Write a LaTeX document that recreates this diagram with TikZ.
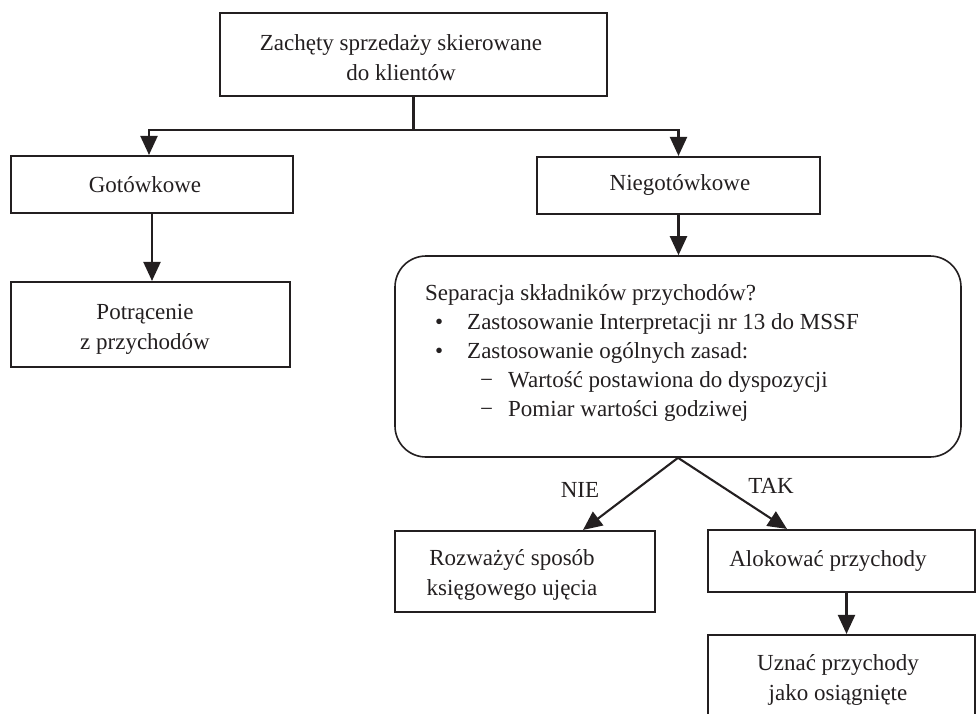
\documentclass[tikz,border=0pt]{standalone}
\usepackage{fontspec}
\setmainfont{Liberation Serif}
\usetikzlibrary{arrows.meta}
\definecolor{ink}{HTML}{231F20}
\tikzset{
  box/.style={draw=ink, line width=2.1pt, rectangle, inner sep=0pt},
  txt/.style={text=ink, align=center, font=\fontsize{23}{30}\selectfont, inner sep=0pt},
  conn/.style={draw=ink, line width=2.1pt},
  arr/.style={conn, -{Triangle[width=17pt,length=19pt]}},
}
\begin{document}
\begin{tikzpicture}[x=1pt,y=-1pt]
\useasboundingbox (0,0) rectangle (977,713);
\clip (0,0) rectangle (977,713);
% boxes
\node[box, minimum width=387pt, minimum height=83pt] (top) at (413.5,54.5) {};
\node[box, minimum width=282pt, minimum height=57pt] (got) at (152,184.5) {};
\node[box, minimum width=283pt, minimum height=57pt] (nieg) at (678.5,185.5) {};
\node[box, minimum width=279pt, minimum height=85pt] (pot) at (150.5,324.5) {};
\node[box, line width=1.6pt, rounded corners=31pt, minimum width=566pt, minimum height=201pt] (sep) at (678,356.5) {};
\node[box, minimum width=260pt, minimum height=81pt] (roz) at (525,571.5) {};
\node[box, minimum width=267pt, minimum height=62pt] (alo) at (841.5,561) {};
\node[box, minimum width=267pt, minimum height=125pt] (uzn) at (841.5,697.5) {};
% texts
\node[txt] (toptxt) at (401,58) {Zachęty sprzedaży skierowane\\do klientów};
\node[txt] (gottxt) at (145,185) {Gotówkowe};
\node[txt] (niegtxt) at (680,185) {Niegotówkowe};
\node[txt] (pottxt) at (145,329) {Potrącenie\\z przychodów};
\node[txt, align=left, anchor=west, font=\fontsize{23}{29}\selectfont] (septxt) at (425,353) {Separacja składników przychodów?\\
\hspace*{10pt}\makebox[32pt][l]{•}Zastosowanie Interpretacji nr 13 do MSSF\\
\hspace*{10pt}\makebox[32pt][l]{•}Zastosowanie ogólnych zasad:\\
\hspace*{55pt}\makebox[28pt][l]{−}Wartość postawiona do dyspozycji\\
\hspace*{55pt}\makebox[28pt][l]{−}Pomiar wartości godziwej};
\node[txt] (roztxt) at (512,575) {Rozważyć sposób\\księgowego ujęcia};
\node[txt] (alotxt) at (828,561) {Alokować przychody};
\node[txt] (uzntxt) at (838,680) {Uznać przychody\\jako osiągnięte};
\node[txt] (nie) at (580,490) {NIE};
\node[txt] (tak) at (771,486) {TAK};
% connectors
\draw[conn] (top.south) -- (top.south |- 0,130) coordinate (j);
\draw[arr] (j) -| ([xshift=-3pt]got.north);
\draw[arr] (j) -| (nieg.north);
\draw[arr] (got.south) -- (got.south |- pot.north);
\draw[arr] (nieg.south) -- (nieg.south |- sep.north);
\draw[arr] (sep.south) -- ([xshift=58pt]roz.north);
\draw[arr] (sep.south) -- ([xshift=-54.5pt]alo.north);
\draw[arr] ([xshift=5pt]alo.south) -- ([xshift=5pt]uzn.north);
\end{tikzpicture}
\end{document}
